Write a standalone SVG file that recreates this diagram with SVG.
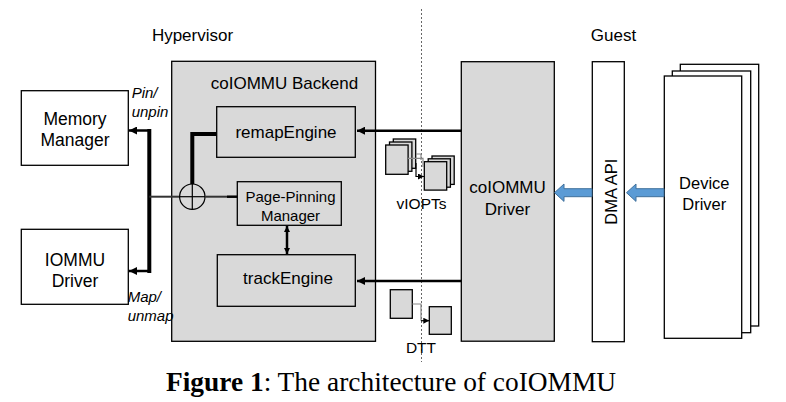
<svg xmlns="http://www.w3.org/2000/svg" width="786" height="402" viewBox="0 0 786 402">
<style>
.t{font-family:"Liberation Sans",Arial,sans-serif;fill:#000;text-anchor:middle}
.it{font-family:"Liberation Sans",Arial,sans-serif;font-style:italic;fill:#000}
.gray{fill:#d9d9d9;stroke:#000;stroke-width:1.3}
.white{fill:#fff;stroke:#000;stroke-width:1.3}
.ln{fill:none;stroke:#000}
.blue{fill:#5b9bd5;stroke:#41719c;stroke-width:1}
</style>
<defs>
<marker id="ah" viewBox="0 0 10 10" refX="10" refY="5" markerWidth="8" markerHeight="8" markerUnits="userSpaceOnUse" orient="auto-start-reverse">
<path d="M0,0 L10,5 L0,10 z" fill="#000"/>
</marker>
<marker id="ahs" viewBox="0 0 10 10" refX="10" refY="5" markerWidth="6" markerHeight="6" markerUnits="userSpaceOnUse" orient="auto-start-reverse">
<path d="M0,0 L10,5 L0,10 z" fill="#000"/>
</marker>
</defs>
<rect width="786" height="402" fill="#fff"/>

<!-- section titles -->
<text class="t" x="192.5" y="41" font-size="17">Hypervisor</text>
<text class="t" x="613.5" y="41" font-size="17">Guest</text>

<!-- boundary -->
<line x1="421.5" y1="9" x2="421.5" y2="362" stroke="#666" stroke-width="1" stroke-dasharray="2,2"/>

<g id="memory-manager">
<rect class="white" x="21.3" y="90.7" width="107" height="74.6"/>
<text class="t" x="75" y="125" font-size="17.5">Memory</text>
<text class="t" x="75" y="145.5" font-size="17.5">Manager</text>
</g>

<g id="iommu-driver">
<rect class="white" x="21.3" y="229.3" width="107" height="75"/>
<text class="t" x="75" y="265.5" font-size="17.5">IOMMU</text>
<text class="t" x="75" y="287" font-size="17.5">Driver</text>
</g>

<g id="coiommu-backend">
<rect class="gray" x="171.7" y="61.3" width="203.8" height="280"/>
<text class="t" x="284.5" y="89" font-size="17">coIOMMU Backend</text>
</g>

<g id="remap-engine">
<rect class="gray" x="216.7" y="106.7" width="138.6" height="50.6"/>
<text class="t" x="286" y="137.5" font-size="17">remapEngine</text>
</g>

<g id="page-pinning-manager">
<rect class="gray" x="237.3" y="181.7" width="104" height="43.6"/>
<text class="t" x="290.5" y="201.5" font-size="15">Page-Pinning</text>
<text class="t" x="290.5" y="221" font-size="15">Manager</text>
</g>

<g id="track-engine">
<rect class="gray" x="217.3" y="254.7" width="138" height="51.6"/>
<text class="t" x="288" y="284" font-size="17">trackEngine</text>
</g>

<g id="viopts">
<rect class="gray" x="393.3" y="139" width="22.4" height="29.3"/>
<rect class="gray" x="389.5" y="142" width="22.4" height="29.3"/>
<rect class="gray" x="385.7" y="145" width="22.4" height="29.3"/>
<rect class="gray" x="432" y="156" width="22.2" height="28.4"/>
<rect class="gray" x="428.2" y="158.8" width="22.2" height="28.4"/>
<rect class="gray" x="424.3" y="161.7" width="22.4" height="28.4"/>
<polyline points="408,158.3 423,158.3 423,167" fill="none" stroke="#888" stroke-width="1.2"/>
<polyline points="416,154 421,154 421,160" fill="none" stroke="#888" stroke-width="1.2"/>
<polyline points="416,163 416,176.5 424,176.5" fill="none" stroke="#000" stroke-width="1.2" marker-end="url(#ahs)"/>
<text class="t" x="421.5" y="209" font-size="15.5">vIOPTs</text>
</g>

<g id="dtt">
<rect class="gray" x="390.3" y="289.7" width="22" height="28.6"/>
<rect class="gray" x="429.3" y="306.7" width="22" height="27.6"/>
<polyline points="412.3,304 421,304 421,320.7" fill="none" stroke="#888" stroke-width="1.2"/>
<line x1="421" y1="320.7" x2="429.3" y2="320.7" stroke="#000" stroke-width="1.2" marker-end="url(#ahs)"/>
<text class="t" x="421" y="353" font-size="15.5">DTT</text>
</g>

<g id="coiommu-driver">
<rect class="gray" x="461.3" y="61.7" width="93" height="279.5"/>
<text class="t" x="507.5" y="193.3" font-size="17">coIOMMU</text>
<text class="t" x="507.5" y="214.5" font-size="17">Driver</text>
</g>

<g id="dma-api">
<rect class="white" x="592.3" y="61.7" width="32" height="280"/>
<text class="t" font-size="16.5" transform="translate(617,191.7) rotate(-90)" x="0" y="0">DMA API</text>
</g>

<g id="device-driver">
<rect class="white" x="680.3" y="64.3" width="78.4" height="261.7"/>
<rect class="white" x="672.3" y="71" width="78.4" height="261.7"/>
<rect class="white" x="664.3" y="76" width="77.4" height="262.3"/>
<text class="t" x="704.3" y="189" font-size="16.5">Device</text>
<text class="t" x="704.3" y="210" font-size="16.5">Driver</text>
</g>

<g id="connectors">
<!-- driver to engines -->
<line class="ln" x1="461.3" y1="130.7" x2="357" y2="130.7" stroke-width="2.5" marker-end="url(#ah)"/>
<line class="ln" x1="461.3" y1="281" x2="357" y2="281" stroke-width="2.5" marker-end="url(#ah)"/>
<!-- PPM <-> trackEngine -->
<line class="ln" x1="287" y1="226" x2="287" y2="254" stroke-width="2.5" marker-start="url(#ahs)" marker-end="url(#ahs)"/>
<!-- thick bus on left -->
<line class="ln" x1="149.3" y1="129" x2="149.3" y2="273" stroke-width="4"/>
<line class="ln" x1="151" y1="130.5" x2="129" y2="130.5" stroke-width="2.5" marker-end="url(#ah)"/>
<line class="ln" x1="151" y1="271" x2="129" y2="271" stroke-width="2.5" marker-end="url(#ah)"/>
<!-- bus to circle -->
<line x1="149.3" y1="196.7" x2="179.6" y2="196.7" stroke="#333" stroke-width="2"/>
<!-- circle (combiner) -->
<circle cx="192.3" cy="196.7" r="12.7" fill="none" stroke="#000" stroke-width="1.2"/>
<line x1="179.6" y1="196.7" x2="205" y2="196.7" stroke="#000" stroke-width="1.2"/>
<line x1="192.3" y1="184" x2="192.3" y2="209.4" stroke="#000" stroke-width="1.2"/>
<!-- circle to remapEngine -->
<polyline class="ln" points="192.3,184 192.3,134 216.7,134" stroke-width="4"/>
<!-- circle to PPM -->
<line x1="205" y1="196.7" x2="227" y2="196.7" stroke="#333" stroke-width="2"/>
<line x1="227" y1="196.7" x2="237.3" y2="196.7" stroke="#000" stroke-width="2.5"/>
<!-- blue arrows -->
<polygon class="blue" points="592,188.7 564,188.7 564,184 554.5,192.7 564,201.4 564,196.7 592,196.7"/>
<polygon class="blue" points="664,188.7 636,188.7 636,184 626.5,192.7 636,201.4 636,196.7 664,196.7"/>
</g>

<text class="it" x="131.7" y="97.5" font-size="15">Pin/</text>
<text class="it" x="131.7" y="117" font-size="15">unpin</text>
<text class="it" x="127.7" y="302" font-size="15">Map/</text>
<text class="it" x="127.7" y="321" font-size="15">unmap</text>

<text x="166" y="391" font-family="'Liberation Serif','Times New Roman',serif" font-size="27.4" fill="#000"><tspan font-weight="bold">Figure 1</tspan>: The architecture of coIOMMU</text>
</svg>
